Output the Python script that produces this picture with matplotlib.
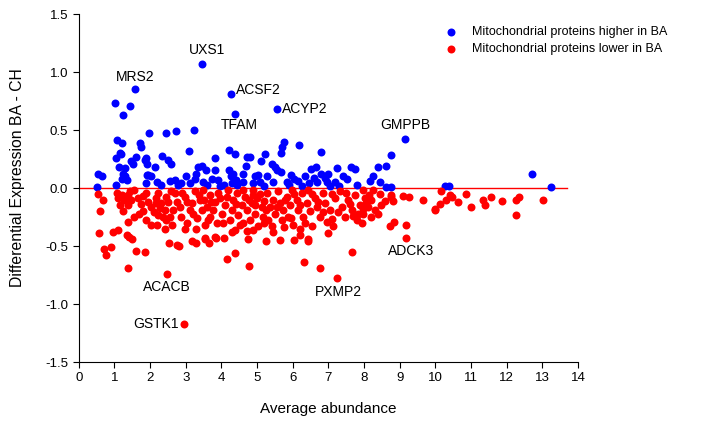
#!/usr/bin/env python3

import numpy as np
import matplotlib
matplotlib.use("Agg")
import matplotlib.pyplot as plt

plt.rcParams["font.family"] = ["Liberation Sans", "DejaVu Sans"]
plt.rcParams["axes.unicode_minus"] = False

# proteins higher in BA (average abundance, BA - CH)
higher_x = [0.50, 0.55, 0.65, 1.02, 1.25, 1.44, 1.58, 1.06, 1.21, 1.04, 1.18, 1.14, 1.25, 1.20, 1.04,
            1.30, 1.46, 1.60, 1.53, 1.72, 1.76, 1.98, 1.88, 1.92, 2.14, 1.92, 2.04, 1.89, 2.33, 2.50,
            2.60, 2.45, 2.74, 2.32, 2.70, 2.77, 2.88, 3.10, 3.24, 3.35, 3.47, 3.57, 3.29, 3.26, 3.12,
            3.49, 3.59, 3.82, 3.83, 3.73, 3.91, 4.07, 4.21, 4.37, 4.22, 4.33, 4.26, 4.40, 4.29, 4.43,
            4.69, 4.71, 4.80, 4.61, 4.94, 5.03, 5.10, 5.22, 5.08, 5.27, 5.41, 5.49, 5.55, 5.66, 5.45,
            5.66, 5.71, 5.76, 5.83, 5.94, 6.18, 6.16, 6.34, 6.46, 6.50, 6.65, 6.78, 6.78, 6.68, 6.96,
            6.99, 7.04, 7.23, 7.41, 7.51, 7.63, 7.74, 7.79, 8.16, 8.24, 8.38, 8.44, 8.61, 8.63, 8.77,
            8.77, 9.15, 10.26, 10.38, 12.71, 13.23, 3.47, 4.28, 4.38, 5.55, 1.16, 1.95, 1.30, 1.36,
            1.86, 5.90, 6.05, 6.25, 6.60, 7.20, 7.30, 6.90, 5.20, 4.90, 4.60, 3.95, 3.00, 2.55, 2.20]
higher_y = [0.01, 0.125, 0.10, 0.73, 0.63, 0.71, 0.85, 0.41, 0.385, 0.26, 0.29, 0.18, 0.125, 0.08, 0.025,
            0.17, 0.23, 0.27, 0.21, 0.385, 0.355, 0.47, 0.255, 0.21, 0.18, 0.11, 0.10, 0.04, 0.28, 0.24,
            0.21, 0.47, 0.49, 0.025, 0.07, 0.025, 0.04, 0.32, 0.50, 0.18, 0.19, 0.155, 0.125, 0.08, 0.04,
            0.055, 0.025, 0.26, 0.155, 0.08, 0.07, 0.025, 0.33, 0.29, 0.155, 0.125, 0.10, 0.07, 0.04, 0.025,
            0.19, 0.27, 0.27, 0.125, 0.10, 0.11, 0.23, 0.29, 0.055, 0.10, 0.21, 0.18, 0.155, 0.14, 0.055,
            0.30, 0.355, 0.40, 0.055, 0.11, 0.37, 0.06, 0.10, 0.04, 0.16, 0.18, 0.31, 0.12, 0.055, 0.055,
            0.125, 0.02, 0.17, 0.10, 0.08, 0.18, 0.16, 0.03, 0.06, 0.105, 0.18, 0.055, 0.19, 0.005, 0.005,
            0.285, 0.425, 0.02, 0.02, 0.12, 0.01, 1.07, 0.81, 0.64, 0.68, 0.30, 0.11, 0.10, 0.07,
            0.24, 0.03, 0.08, 0.02, 0.09, 0.05, 0.02, 0.09, 0.02, 0.04, 0.05, 0.02, 0.10, 0.06, 0.05]

# proteins lower in BA
lower_x = [0.56, 0.60, 0.69, 0.54, 0.72, 0.77, 0.91, 0.95, 1.10, 1.39, 1.60, 1.85, 1.36, 1.48, 1.42,
           2.48, 2.94, 2.53, 2.82, 3.30, 3.53, 3.66, 3.85, 4.06, 4.16, 4.39, 4.30, 4.77, 4.74, 4.73,
           5.25, 5.65, 6.03, 6.31, 6.44, 6.20, 6.76, 6.98, 7.24, 7.65, 7.13, 8.72, 8.83, 9.19, 9.19,
           9.99, 10.14, 10.17, 10.29, 10.40, 10.48, 10.64, 10.87, 10.99, 11.33, 11.38, 11.55, 11.88, 12.25, 12.27,
           12.34, 13.03, 9.08, 9.26, 9.65, 8.75, 8.80, 8.47, 8.21, 7.97, 7.83,
           1.06, 1.11, 1.20, 1.16, 1.28, 1.25, 1.39, 1.44, 1.56, 1.47, 1.37, 1.37, 1.81, 1.69, 1.81,
           2.03, 1.95, 2.04, 2.18, 2.16, 2.32, 2.23, 2.42, 2.42, 2.56, 2.46, 2.60, 2.35, 2.46, 2.23,
           2.70, 2.75, 2.65, 2.84, 2.88, 2.98, 3.03, 2.98, 3.12, 3.17, 3.26, 3.31, 3.40, 3.45, 3.49,
           3.54, 3.59, 3.68, 3.68, 3.77, 3.82, 3.87, 3.96, 4.01, 4.10, 4.19, 4.24, 4.29, 4.33, 4.38,
           4.43, 4.47, 4.57, 4.61, 4.66, 4.71, 4.80, 4.85, 4.89, 4.94, 4.99, 5.03, 5.13, 5.17, 5.27,
           2.75, 3.17, 3.54, 3.82, 5.36, 5.31, 5.45, 5.50, 5.41, 5.59, 5.64, 5.69, 5.73, 5.83, 5.87,
           5.92, 5.97, 6.01, 6.11, 6.15, 6.20, 6.25, 6.29, 6.39, 6.43, 6.48, 6.53, 6.62, 6.67, 6.76,
           6.85, 6.90, 7.04, 7.10, 7.18, 7.32, 7.37, 7.46, 7.55, 7.65, 7.74, 7.88, 7.79, 6.43, 7.97,
           8.02, 8.11, 7.97, 8.21, 8.26, 8.30, 8.39, 8.77, 7.93, 10.00,
           1.65, 1.75, 1.90, 2.10, 2.28, 2.50, 2.62, 2.90, 3.05, 3.20, 3.36, 3.62, 3.72, 3.90, 4.05,
           4.15, 4.40, 4.52, 4.60, 4.78, 4.95, 5.08, 5.20, 5.25, 5.55, 5.78, 5.95, 6.05, 6.20, 6.35,
           6.55, 6.70, 6.85, 6.95, 7.10, 7.28, 7.50, 7.60, 7.70, 8.05, 8.15, 8.45, 8.60, 3.30, 5.45,
           4.90, 5.75, 2.20, 1.55, 1.90, 3.50, 4.90, 5.20]
lower_y = [-0.385, -0.195, -0.10, -0.05, -0.525, -0.58, -0.51, -0.38, -0.36, -0.69, -0.54, -0.55, -0.405, -0.44, -0.42,
           -0.74, -1.17, -0.47, -0.50, -0.47, -0.44, -0.47, -0.43, -0.43, -0.61, -0.56, -0.38, -0.67, -0.44, -0.37,
           -0.46, -0.45, -0.45, -0.64, -0.46, -0.405, -0.69, -0.385, -0.78, -0.55, -0.33, -0.325, -0.29, -0.32, -0.43,
           -0.19, -0.14, -0.03, -0.10, -0.06, -0.075, -0.12, -0.055, -0.16, -0.10, -0.15, -0.075, -0.11, -0.23, -0.10,
           -0.075, -0.10, -0.07, -0.075, -0.10, -0.075, -0.11, -0.15, -0.25, -0.18, -0.22,
           -0.04, -0.09, -0.06, -0.15, -0.10, -0.20, -0.06, -0.03, -0.02, -0.10, -0.15, -0.29, -0.07, -0.22, -0.20,
           -0.32, -0.12, -0.16, -0.09, -0.13, -0.13, -0.23, -0.35, -0.19, -0.25, -0.075, -0.03, -0.25, -0.28, -0.045,
           -0.045, -0.12, -0.19, -0.16, -0.25, -0.075, -0.30, -0.35, -0.19, -0.13, -0.03, -0.26, -0.10, -0.19, -0.02,
           -0.32, -0.16, -0.06, -0.25, -0.19, -0.12, -0.30, -0.09, -0.22, -0.15, -0.02, -0.28, -0.19, -0.10, -0.36,
           -0.045, -0.23, -0.15, -0.30, -0.075, -0.19, -0.28, -0.13, -0.02, -0.22, -0.09, -0.33, -0.16, -0.25, -0.045,
           -0.49, -0.46, -0.43, -0.42, -0.16, -0.28, -0.10, -0.22, -0.33, -0.03, -0.13, -0.28, -0.19, -0.075, -0.25,
           -0.15, -0.02, -0.32, -0.10, -0.19, -0.35, -0.045, -0.25, -0.13, -0.02, -0.20, -0.33, -0.09, -0.16, -0.25,
           -0.045, -0.13, -0.19, -0.27, -0.09, -0.03, -0.16, -0.25, -0.10, -0.19, -0.06, -0.15, -0.28, -0.44, -0.02,
           -0.09, -0.16, -0.22, -0.10, -0.02, -0.19, -0.22, -0.06, -0.30, -0.18,
           -0.09, -0.14, -0.04, -0.21, -0.17, -0.12, -0.32, -0.04, -0.12, -0.22, -0.06, -0.28, -0.12, -0.04, -0.30,
           -0.08, -0.14, -0.32, -0.02, -0.10, -0.15, -0.05, -0.11, -0.19, -0.16, -0.10, -0.26, -0.05, -0.15, -0.30,
           -0.05, -0.12, -0.21, -0.29, -0.05, -0.21, -0.04, -0.14, -0.24, -0.13, -0.06, -0.05, -0.11, -0.35, -0.38,
           -0.36, -0.34, -0.32, -0.25, -0.28, -0.10, -0.06, -0.30]

# labelled proteins: name, text position, alignment
label_names = ["UXS1", "MRS2", "ACSF2", "TFAM", "ACYP2", "GMPPB", "ADCK3", "PXMP2", "ACACB", "GSTK1"]
label_x = [3.61, 1.59, 4.42, 4.50, 5.69, 9.17, 9.32, 7.29, 2.47, 2.80]
label_y = [1.19, 0.954, 0.845, 0.54, 0.68, 0.543, -0.543, -0.90, -0.856, -1.17]
label_ha = ["center", "center", "left", "center", "left", "center", "center", "center", "center", "right"]

zero_line_end = 13.7


fig = plt.figure(figsize=(7.01, 4.21), dpi=100)
ax = fig.add_axes([0.1123, 0.1401, 0.7122, 0.8266])

ms = 33
ax.scatter(higher_x, higher_y, s=ms, color="#0000ff", linewidths=0, zorder=3,
           label="Mitochondrial proteins higher in BA")
ax.scatter(lower_x, lower_y, s=ms, color="#ff0000", linewidths=0, zorder=3,
           label="Mitochondrial proteins lower in BA")
ax.plot([0, zero_line_end], [0, 0], color="#ff0000", lw=1, zorder=2)

for name, tx, ty, ha in zip(label_names, label_x, label_y, label_ha):
    ax.text(tx, ty, name, ha=ha, va="center", fontsize=10)

# axes
ax.set_xlim(0, 14)
ax.set_ylim(-1.5, 1.5)
ax.set_xticks(np.arange(0, 15, 1))
ax.set_yticks(np.arange(-1.5, 1.51, 0.5))
ax.set_yticklabels([f"{v:.1f}" for v in np.arange(-1.5, 1.51, 0.5)])
ax.spines["top"].set_visible(False)
ax.spines["right"].set_visible(False)
ax.tick_params(direction="out", length=4, labelsize=9.5)
ax.set_xlabel("Average abundance", fontsize=11, labelpad=13)
ax.set_ylabel("Differential Expression BA - CH", fontsize=11.3)
ax.yaxis.set_label_coords(-0.108, 0.53)

fig.legend(loc="upper left", bbox_to_anchor=(0.634, 0.938), frameon=False, fontsize=9,
           handlelength=1, handletextpad=1.2, borderaxespad=0, borderpad=0, labelspacing=0.4,
           scatterpoints=1)

fig.savefig("out.png", dpi=100)
